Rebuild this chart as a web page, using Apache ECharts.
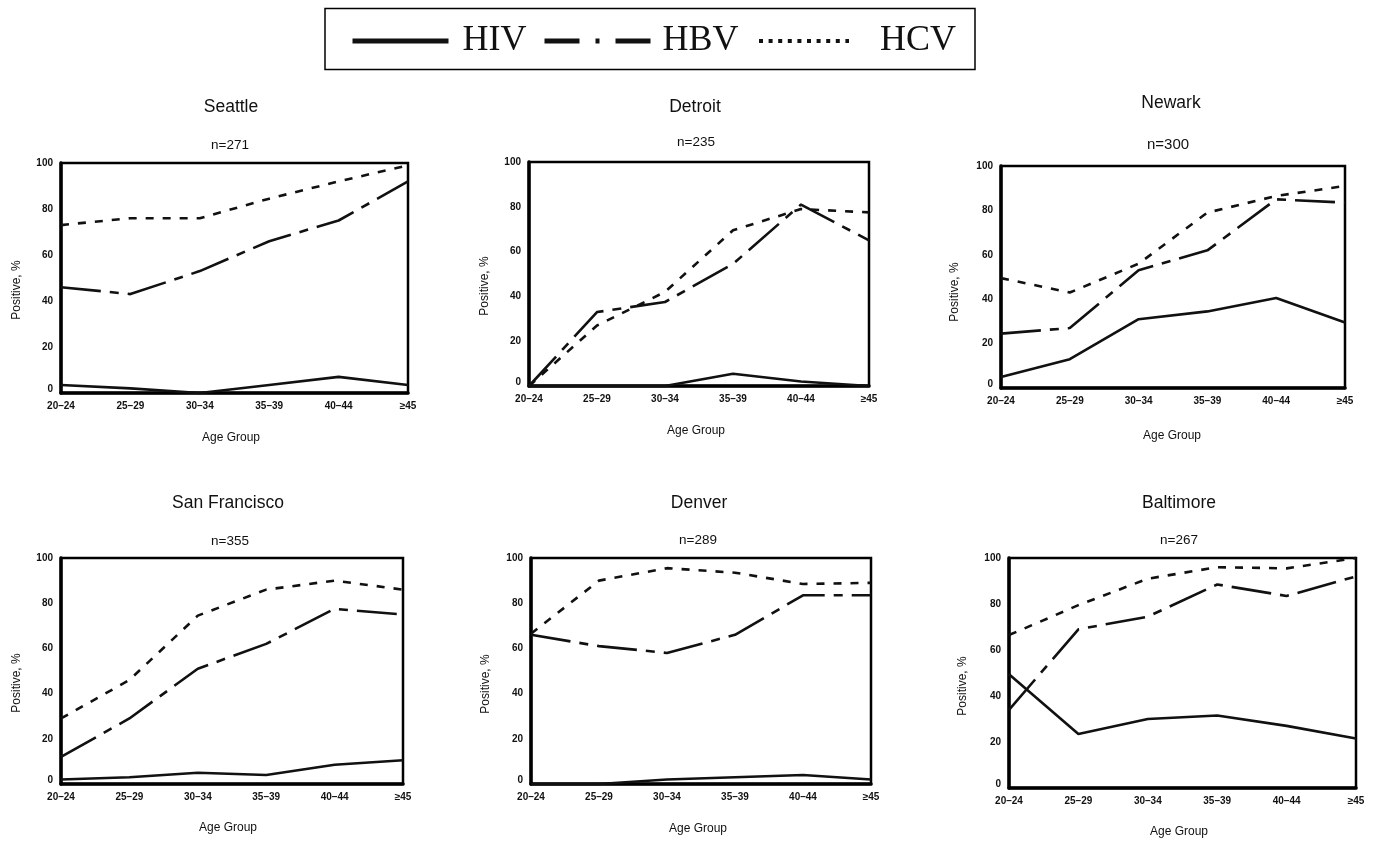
<!DOCTYPE html>
<html>
<head>
<meta charset="utf-8">
<script src="https://cdn.jsdelivr.net/npm/echarts@6/dist/echarts.min.js"></script>
<style>
html,body{margin:0;padding:0;background:#fff;}
#chart{width:1375px;height:842px;}
</style>
</head>
<body>
<div id="chart"></div>
<script>
// ---- data ----
const ageGroups = ['20–24', '25–29', '30–34', '35–39', '40–44', '≥45'];
const yTicks = [0, 20, 40, 60, 80, 100];
const cities = ['Seattle', 'Detroit', 'Newark', 'San Francisco', 'Denver', 'Baltimore'];
const sampleSizes = ['n=271', 'n=235', 'n=300', 'n=355', 'n=289', 'n=267'];
const seriesNames = ['HIV', 'HBV', 'HCV'];

const seattleHIV = [3.5, 2, 0, 3.5, 7, 3.5];
const seattleHBV = [46, 43, 53, 66, 75, 92];
const seattleHCV = [73, 76, 76, 84.5, 92, 99];

const detroitHIV = [0, 0, 0, 5.5, 2, 0];
const detroitHBV = [0, 33, 37.5, 54.5, 81, 65];
const detroitHCV = [0, 27, 42, 69.5, 79, 77.5];

const newarkHIV = [5, 13, 31, 34.5, 40.5, 29.5];
const newarkHBV = [24.5, 27, 53, 62, 85, 83.5];
const newarkHCV = [49.5, 43, 56, 79, 86.5, 91];

const sanFranciscoHIV = [2, 3, 5, 4, 8.5, 10.5];
const sanFranciscoHBV = [12, 29, 51, 62, 77.5, 75];
const sanFranciscoHCV = [29, 46, 74.5, 86, 90, 86];

const denverHIV = [0, 0, 2, 3, 4, 2];
const denverHBV = [66, 61, 58, 66, 83.5, 83.5];
const denverHCV = [66.5, 90, 95.5, 93.5, 88.5, 89];

const baltimoreHIV = [49.5, 23.5, 30, 31.5, 27, 21.5];
const baltimoreHBV = [34, 69, 74.5, 88.5, 83.5, 92];
const baltimoreHCV = [66.5, 79.5, 91, 96, 95.5, 100];

const cityData = [
  [seattleHIV, seattleHBV, seattleHCV],
  [detroitHIV, detroitHBV, detroitHCV],
  [newarkHIV, newarkHBV, newarkHCV],
  [sanFranciscoHIV, sanFranciscoHBV, sanFranciscoHCV],
  [denverHIV, denverHBV, denverHCV],
  [baltimoreHIV, baltimoreHBV, baltimoreHCV]
];

// ---- layout ----
const panels = [
  {grid: [61, 163, 347, 230], title: [231, 107], sub: [230, 145], subSize: 13.5, xName: [231, 438], yName: [17, 290]},
  {grid: [529, 162, 340, 224], title: [695, 107], sub: [696, 142], subSize: 13.5, xName: [696, 431], yName: [485, 286]},
  {grid: [1001, 166, 344, 222], title: [1171, 103], sub: [1168, 145], subSize: 15, xName: [1172, 436], yName: [955, 292]},
  {grid: [61, 558, 342, 226], title: [228, 503], sub: [230, 541], subSize: 13.5, xName: [228, 828], yName: [17, 683]},
  {grid: [531, 558, 340, 226], title: [699, 503], sub: [698, 540], subSize: 13.5, xName: [698, 829], yName: [486, 684]},
  {grid: [1009, 558, 347, 230], title: [1179, 503], sub: [1179, 540], subSize: 13.5, xName: [1179, 832], yName: [963, 686]}
];

const INK = '#111';
const SANS = 'Liberation Sans, Arial, sans-serif';
const lineStyles = [
  {type: 'solid', width: 2.6, color: INK},
  {type: [40, 9, 9, 9], width: 2.6, color: INK},
  {type: [8, 9], width: 2.6, color: INK}
];

const grids = [], xAxes = [], yAxes = [], series = [], graphics = [];

panels.forEach((p, i) => {
  grids.push({
    left: p.grid[0], top: p.grid[1], width: p.grid[2], height: p.grid[3],
    show: true, borderColor: '#000', borderWidth: 2.5, backgroundColor: 'transparent',
    containLabel: false
  });
  xAxes.push({
    type: 'category', gridIndex: i, data: ageGroups, boundaryGap: false,
    axisLine: {show: true, lineStyle: {color: '#000', width: 3.5}},
    axisTick: {show: false},
    axisLabel: {interval: 0, margin: 8, fontSize: 10, fontWeight: 'bold', color: INK, fontFamily: SANS},
    splitLine: {show: false}
  });
  yAxes.push({
    type: 'value', gridIndex: i, min: yTicks[0], max: yTicks[yTicks.length - 1], interval: 20,
    axisLine: {show: true, lineStyle: {color: '#000', width: 3.5}},
    axisTick: {show: false},
    axisLabel: {
      margin: 8, fontSize: 10, fontWeight: 'bold', color: INK, fontFamily: SANS,
      formatter: v => (v === 0 ? '{z|0}' : String(v)),
      rich: {z: {fontSize: 10, fontWeight: 'bold', color: INK, fontFamily: SANS, padding: [0, 0, 8, 0]}}
    },
    splitLine: {show: false}
  });
  seriesNames.forEach((name, k) => {
    series.push({
      type: 'line', name: name, xAxisIndex: i, yAxisIndex: i,
      data: cityData[i][k], symbol: 'none', smooth: false,
      lineStyle: lineStyles[k], clip: false, z: 3
    });
  });
  graphics.push({
    type: 'text', x: p.title[0], y: p.title[1],
    style: {text: cities[i], fontSize: 17.5, fontFamily: SANS, fill: INK, align: 'center', verticalAlign: 'middle'}
  });
  graphics.push({
    type: 'text', x: p.sub[0], y: p.sub[1],
    style: {text: sampleSizes[i], fontSize: p.subSize, fontFamily: SANS, fill: INK, align: 'center', verticalAlign: 'middle'}
  });
  graphics.push({
    type: 'text', x: p.xName[0], y: p.xName[1],
    style: {text: 'Age Group', fontSize: 12, fontFamily: SANS, fill: INK, align: 'center', verticalAlign: 'middle'}
  });
  graphics.push({
    type: 'text', x: p.yName[0], y: p.yName[1], rotation: Math.PI / 2,
    style: {text: 'Positive, %', fontSize: 12, fontFamily: SANS, fill: INK, align: 'center', verticalAlign: 'middle'}
  });
});

// legend frame
graphics.push({
  type: 'rect', shape: {x: 325, y: 8.5, width: 650, height: 61},
  style: {fill: 'none', stroke: '#000', lineWidth: 1.5}, z: 0
});

const legendText = {fontSize: 36, fontFamily: 'Liberation Serif, Times New Roman, serif', color: '#111'};
const legends = [
  {left: 350, itemWidth: 96, name: 'HIV', lineStyle: {type: 'solid', width: 5, color: '#111'}, textPad: 9},
  {left: 542, itemWidth: 108, name: 'HBV', lineStyle: {type: [35, 16, 4, 16], width: 5, color: '#111'}, textPad: 5},
  {left: 757, itemWidth: 90, name: 'HCV', lineStyle: {type: [4, 5.6], width: 4, color: '#111'}, textPad: 26}
].map(l => ({
  show: true, orient: 'horizontal', left: l.left, top: 23, padding: 0,
  itemWidth: l.itemWidth, itemHeight: 14, selectedMode: false,
  data: [{name: l.name}],
  lineStyle: l.lineStyle,
  itemStyle: {opacity: 0},
  textStyle: Object.assign({}, legendText, {padding: [0, 0, 0, l.textPad]})
}));

const chart = echarts.init(document.getElementById('chart'), null, {renderer: 'canvas'});
chart.setOption({
  backgroundColor: '#fff',
  animation: false,
  legend: legends,
  grid: grids,
  xAxis: xAxes,
  yAxis: yAxes,
  series: series,
  graphic: graphics
});
</script>
</body>
</html>
